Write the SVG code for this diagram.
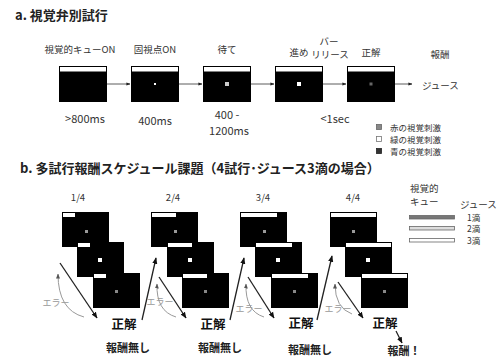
<svg xmlns="http://www.w3.org/2000/svg" width="500" height="358" viewBox="0 0 500 358">
<defs>
<style>
text{font-family:"Noto Sans CJK JP","Liberation Sans",sans-serif;fill:#222}
.t{font-size:13px;font-weight:bold}
.s{font-size:9.5px;fill:#333}
.g{font-size:8.5px;fill:#333}
.m{font-size:11px;fill:#333}
.b{font-size:12.5px;font-weight:bold;fill:#111}
.r{font-size:11px;font-weight:bold;fill:#222}
.e{font-size:9px;fill:#999}
.scr{fill:#000;stroke:#000;stroke-width:1}
.bar{fill:#fff}
.ln{stroke:#333;stroke-width:0.8;fill:none}
.ar{stroke:#222;stroke-width:1.3;fill:none}
.er{stroke:#999;stroke-width:1;fill:none}
</style>
<marker id="ha" viewBox="0 0 10 10" refX="9" refY="5" markerWidth="5" markerHeight="5" orient="auto"><path d="M0,1 L10,5 L0,9 z" fill="#222"/></marker>
<marker id="hb" viewBox="0 0 10 10" refX="9" refY="5" markerWidth="5" markerHeight="5" orient="auto"><path d="M0,1 L10,5 L0,9 z" fill="#111"/></marker>
<marker id="he" viewBox="0 0 10 10" refX="9" refY="5" markerWidth="5" markerHeight="5" orient="auto"><path d="M0,1 L10,5 L0,9 z" fill="#555"/></marker>
</defs>
<rect width="500" height="358" fill="#fff"/>

<text class="t" x="15" y="20">a. 視覚弁別試行</text>

<g id="a-screen1">
<rect class="scr" x="59.5" y="66.5" width="47" height="35"/>
<rect class="bar" x="60" y="67" width="46" height="4.5"/>
<text class="s" x="80" y="53" text-anchor="middle">視覚的キューON</text>
<text class="m" x="85" y="123" text-anchor="middle">&gt;800ms</text>
</g>
<g id="a-screen2">
<rect class="scr" x="131.5" y="66.5" width="47" height="35"/>
<rect class="bar" x="132" y="67" width="46" height="4.5"/>
<rect x="154" y="83" width="2" height="2" fill="#fff"/>
<text class="s" x="155" y="53" text-anchor="middle">固視点ON</text>
<text class="m" x="155" y="125" text-anchor="middle">400ms</text>
</g>
<g id="a-screen3">
<rect class="scr" x="203.5" y="66.5" width="47" height="35"/>
<rect class="bar" x="204" y="67" width="46" height="4.5"/>
<rect x="225" y="82" width="4" height="4" fill="#ccc"/>
<text class="s" x="227" y="53" text-anchor="middle">待て</text>
<text class="m" x="227" y="119" text-anchor="middle">400 -</text>
<text class="m" x="229" y="135" text-anchor="middle">1200ms</text>
</g>
<g id="a-screen4">
<rect class="scr" x="275.5" y="66.5" width="47" height="35"/>
<rect class="bar" x="276" y="67" width="46" height="4.5"/>
<rect x="297" y="82" width="4" height="4" fill="#fff"/>
<text class="s" x="299" y="56" text-anchor="middle">進め</text>
</g>
<g id="a-release">
<text class="s" x="329" y="45" text-anchor="middle">バー</text>
<text class="s" x="330" y="58" text-anchor="middle">リリース</text>
<text class="m" x="335" y="123" text-anchor="middle">&lt;1sec</text>
</g>
<g id="a-screen5">
<rect class="scr" x="347.5" y="66.5" width="47" height="35"/>
<rect class="bar" x="348" y="67" width="46" height="4.5"/>
<rect x="369.5" y="82.5" width="3" height="3" fill="#666"/>
<text class="s" x="371" y="56" text-anchor="middle">正解</text>
</g>
<g id="a-reward">
<text class="s" x="440" y="58" text-anchor="middle">報酬</text>
<text class="s" x="422" y="89">ジュース</text>
</g>
<g id="a-legend">
<rect x="376.5" y="124.5" width="5" height="5" fill="#888" stroke="#666" stroke-width="0.8"/>
<text class="g" x="390" y="130.5">赤の視覚刺激</text>
<rect x="376.5" y="136.5" width="5" height="5" fill="#fff" stroke="#777" stroke-width="0.8"/>
<text class="g" x="390" y="142.5">緑の視覚刺激</text>
<rect x="376.5" y="148.5" width="5" height="5" fill="#333" stroke="#222" stroke-width="0.8"/>
<text class="g" x="390" y="154.5">青の視覚刺激</text>
</g>

<g id="a-connectors">
<line class="ln" x1="107" y1="84" x2="130" y2="84" marker-end="url(#ha)"/>
<line class="ln" x1="179" y1="84" x2="202" y2="84" marker-end="url(#ha)"/>
<line class="ln" x1="251" y1="84" x2="274" y2="84" marker-end="url(#ha)"/>
<line class="ln" x1="323" y1="84" x2="346" y2="84" marker-end="url(#ha)"/>
<line class="ln" x1="395" y1="84" x2="412" y2="84" marker-end="url(#ha)"/>
</g>

<text class="t" x="20" y="173">b. 多試行報酬スケジュール課題（4試行･ジュース3滴の場合）</text>

<g id="b-stack1">
<text class="s" x="78" y="201" text-anchor="middle">1/4</text>
<rect class="scr" x="62.5" y="212.5" width="46" height="34"/>
<rect x="63" y="213" width="12" height="4" fill="#fff"/>
<rect x="85" y="230" width="3" height="3" fill="#999"/>
<rect class="scr" x="77.5" y="242.5" width="46" height="34"/>
<rect x="78" y="243" width="12" height="4" fill="#fff"/>
<rect x="98" y="258" width="4" height="4" fill="#fff"/>
<rect class="scr" x="93.5" y="273.5" width="46" height="34"/>
<rect x="94" y="274" width="12" height="4" fill="#fff"/>
<rect x="115" y="290" width="3" height="3" fill="#888"/>
</g>
<g id="b-stack2">
<text class="s" x="173" y="201" text-anchor="middle">2/4</text>
<rect class="scr" x="151.5" y="212.5" width="46" height="34"/>
<rect x="152" y="213" width="24" height="4" fill="#fff"/>
<rect x="174" y="230" width="3" height="3" fill="#999"/>
<rect class="scr" x="167.5" y="242.5" width="46" height="34"/>
<rect x="168" y="243" width="24" height="4" fill="#fff"/>
<rect x="188" y="258" width="4" height="4" fill="#fff"/>
<rect class="scr" x="182.5" y="273.5" width="46" height="34"/>
<rect x="183" y="274" width="24" height="4" fill="#fff"/>
<rect x="204" y="290" width="3" height="3" fill="#888"/>
</g>
<g id="b-stack3">
<text class="s" x="263" y="201" text-anchor="middle">3/4</text>
<rect class="scr" x="240.5" y="212.5" width="46" height="34"/>
<rect x="241" y="213" width="36" height="4" fill="#fff"/>
<rect x="263" y="230" width="3" height="3" fill="#999"/>
<rect class="scr" x="255.5" y="242.5" width="46" height="34"/>
<rect x="256" y="243" width="36" height="4" fill="#fff"/>
<rect x="276" y="258" width="4" height="4" fill="#fff"/>
<rect class="scr" x="271.5" y="273.5" width="46" height="34"/>
<rect x="272" y="274" width="36" height="4" fill="#fff"/>
<rect x="293" y="290" width="3" height="3" fill="#888"/>
</g>
<g id="b-stack4">
<text class="s" x="353" y="201" text-anchor="middle">4/4</text>
<rect class="scr" x="330.5" y="212.5" width="46" height="34"/>
<rect x="331" y="213" width="45" height="4" fill="#fff"/>
<rect x="352" y="230" width="3" height="3" fill="#999"/>
<rect class="scr" x="345.5" y="242.5" width="46" height="34"/>
<rect x="346" y="243" width="45" height="4" fill="#fff"/>
<rect x="366" y="258" width="4" height="4" fill="#fff"/>
<rect class="scr" x="361.5" y="273.5" width="46" height="34"/>
<rect x="362" y="274" width="45" height="4" fill="#fff"/>
<rect x="383" y="290" width="3" height="3" fill="#888"/>
</g>

<g id="b-legend">
<text class="s" x="410" y="192">視覚的</text>
<text class="s" x="410" y="205">キュー</text>
<text class="s" x="460" y="208">ジュース</text>
<rect x="409.5" y="215.5" width="45" height="3.5" fill="#777" stroke="#666" stroke-width="0.8"/>
<text class="g" x="467" y="220.5">1滴</text>
<rect x="409.5" y="226.5" width="45" height="3.5" fill="#ddd" stroke="#666" stroke-width="0.8"/>
<text class="g" x="467" y="231.5">2滴</text>
<rect x="409.5" y="238.5" width="45" height="3.5" fill="#fff" stroke="#666" stroke-width="0.8"/>
<text class="g" x="467" y="243.5">3滴</text>
</g>

<g id="b-labels">
<text class="e" x="56" y="306" text-anchor="middle">エラー</text>
<text class="b" x="124" y="329" text-anchor="middle">正解</text>
<text class="r" x="128" y="352" text-anchor="middle">報酬無し</text>
<text class="e" x="160" y="305" text-anchor="middle">エラー</text>
<text class="b" x="213" y="329" text-anchor="middle">正解</text>
<text class="r" x="220" y="352" text-anchor="middle">報酬無し</text>
<text class="e" x="249" y="312" text-anchor="middle">エラー</text>
<text class="b" x="301" y="328" text-anchor="middle">正解</text>
<text class="r" x="310" y="354" text-anchor="middle">報酬無し</text>
<text class="e" x="338" y="312" text-anchor="middle">エラー</text>
<text class="b" x="385" y="328" text-anchor="middle">正解</text>
<text class="r" x="404" y="354.5" text-anchor="middle">報酬！</text>
</g>

<g id="b-connectors">
<line class="ar" x1="60" y1="263" x2="97" y2="318" marker-end="url(#hb)"/>
<path class="er" d="M84,317 Q58,310 58,274" marker-end="url(#he)"/>
<line class="ar" x1="142" y1="320" x2="156" y2="258" marker-end="url(#hb)"/>

<line class="ar" x1="159" y1="277" x2="186" y2="318" marker-end="url(#hb)"/>
<path class="er" d="M176,317 Q156,311 157,284" marker-end="url(#he)"/>
<line class="ar" x1="230" y1="320" x2="244" y2="258" marker-end="url(#hb)"/>

<line class="ar" x1="248" y1="277" x2="274" y2="318" marker-end="url(#hb)"/>
<path class="er" d="M264,317 Q245,311 246,284" marker-end="url(#he)"/>
<line class="ar" x1="317" y1="320" x2="332" y2="256" marker-end="url(#hb)"/>

<line class="ar" x1="338" y1="282" x2="363" y2="318" marker-end="url(#hb)"/>
<path class="er" d="M352,314 Q335,308 335,284" marker-end="url(#he)"/>
<line class="ar" x1="396" y1="331" x2="402" y2="343" marker-end="url(#hb)"/>
</g>
</svg>
